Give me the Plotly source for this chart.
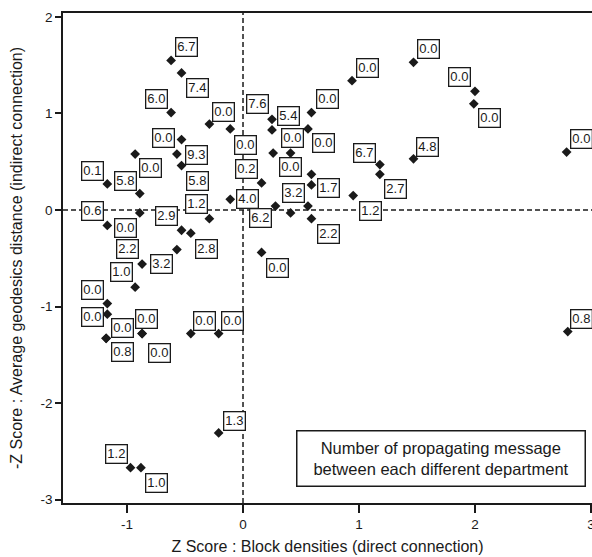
import plotly.graph_objects as go

# Z scores (direct connection = block density, indirect = -avg geodesic distance)
block_density_z = [
    -0.62, -0.53, -0.62, -0.29, -0.11, -0.53, -0.93, -0.57, -0.53, -1.17,
    -0.89, -1.17, -0.89, -0.53, -0.29, -0.45, -0.57, -0.87, -0.93, -0.11,
    -1.17, -1.17, -1.18, -1.18, -0.87, -0.87, -0.45, -0.21, -0.21, -0.97,
    -0.88, 0.25, 0.25, 0.59, 0.56, 0.26, 0.41, 0.59, 0.59, 0.16,
    0.28, 0.56, 0.41, 0.59, 0.95, 0.16, 0.94, 1.47, 2.00, 1.99,
    2.79, 1.18, 1.18, 1.47, 2.80,
]
geodesic_z = [
    1.55, 1.42, 1.01, 0.89, 0.84, 0.73, 0.58, 0.58, 0.46, 0.27,
    0.17, -0.16, -0.03, -0.21, -0.09, -0.24, -0.41, -0.56, -0.80, 0.11,
    -0.97, -1.08, -1.33, -1.33, -1.28, -1.28, -1.28, -1.28, -2.31, -2.67,
    -2.67, 0.94, 0.83, 1.01, 0.84, 0.59, 0.59, 0.37, 0.26, 0.28,
    0.04, 0.04, -0.03, -0.09, 0.15, -0.44, 1.34, 1.53, 1.23, 1.10,
    0.60, 0.47, 0.37, 0.53, -1.26,
]
messages = [
    "6.7", "7.4", "6.0", "0.0", "0.0", "0.0", "0.0", "9.3", "5.8", "0.1",
    "5.8", "0.6", "0.0", "2.9", "1.2", "2.8", "3.2", "2.2", "1.0", "4.0",
    "0.0", "0.0", "0.8", "0.0", "0.0", "0.0", "0.0", "0.0", "1.3", "1.2",
    "1.0", "7.6", "5.4", "0.0", "0.0", "0.0", "0.0", "", "1.7", "0.2",
    "6.2", "3.2", "", "2.2", "1.2", "0.0", "0.0", "0.0", "0.0", "0.0",
    "0.0", "6.7", "2.7", "4.8", "0.8",
]
x_ticks = [-1, 0, 1, 2, 3]
y_ticks = [-3, -2, -1, 0, 1, 2]

# label placement (pixel offsets from each point; layout only)
label_dx = [
    15, 16, -15, 14, 15, -18, 15, 20, 16, -15,
    -14, -15, -14, -15, -13, 16, -15, -15, -14, 17,
    -15, -15, 16, 16, 4, 17, 14, 14, 16, -14,
    16, -15, 16, 16, 16, 19, 0, 0, 17, -15,
    -15, -14, 0, 17, 17, 16, 15, 15, -15, 16,
    15, -15, 16, 14, 14,
]
label_dy = [
    -13, 15, -14, -12, 16, -2, 14, 1, 15, -13,
    -13, -14, 15, -14, -15, 16, 14, -15, -15, 0,
    -14, 3, 14, -10, -15, 19, -13, -13, -12, -14,
    15, -15, -14, -14, 14, -15, 14, 0, 3, -14,
    12, -13, 0, 15, 15, 16, -13, -13, -14, 14,
    -13, -12, 15, -12, -13,
]

FONT = "Liberation Sans, Arial, sans-serif"
INK = "#1a1a1a"

fig = go.Figure()
fig.add_trace(go.Scatter(
    x=block_density_z, y=geodesic_z, mode="markers",
    marker=dict(symbol="diamond", size=7.5, color=INK),
    hoverinfo="x+y", showlegend=False,
))

annotations = []
for xv, yv, t, dx, dy in zip(block_density_z, geodesic_z, messages, label_dx, label_dy):
    if not t:
        continue
    annotations.append(dict(
        x=xv, y=yv, xref="x", yref="y", text=t, showarrow=False,
        xshift=dx, yshift=-dy, xanchor="center", yanchor="middle",
        font=dict(family=FONT, size=13, color=INK),
        bgcolor="white", bordercolor=INK, borderwidth=1.3, borderpad=1,
    ))

annotations.append(dict(
    x=0.7146, y=0.0908, xref="paper", yref="paper",
    xanchor="center", yanchor="middle",
    text="Number of propagating message<br>between each different department",
    showarrow=False, align="center",
    font=dict(family=FONT, size=16.5, color=INK),
    bgcolor="white", bordercolor=INK, borderwidth=1.5, borderpad=3,
    width=281, height=48,
))

fig.update_layout(
    width=592, height=557,
    margin=dict(l=63, r=0, t=13, b=54),
    paper_bgcolor="white", plot_bgcolor="white",
    font=dict(family=FONT, size=12, color=INK),
    annotations=annotations,
    shapes=[
        dict(type="line", xref="x", yref="paper", x0=0, x1=0, y0=0, y1=1,
             line=dict(color=INK, width=1.5, dash="5px,3px")),
        dict(type="line", xref="paper", yref="y", x0=0, x1=1, y0=0, y1=0,
             line=dict(color=INK, width=1.5, dash="5px,3px")),
    ],
    xaxis=dict(
        range=[-1.552, 3.009], tickvals=x_ticks, ticktext=[str(v) for v in x_ticks],
        automargin=False, ticklabeloverflow="allow",
        showgrid=False, zeroline=False, showline=True, linecolor=INK, linewidth=1.5,
        mirror=True, ticks="outside", ticklen=8, tickwidth=1.5, tickcolor=INK,
        tickfont=dict(family=FONT, size=13.5, color=INK),
        title=dict(text="Z Score : Block densities (direct connection)",
                   font=dict(family=FONT, size=16, color=INK), standoff=10),
    ),
    yaxis=dict(
        range=[-3.036, 2.041], tickvals=y_ticks, ticktext=[str(v) for v in y_ticks],
        automargin=False, ticklabeloverflow="allow",
        showgrid=False, zeroline=False, showline=True, linecolor=INK, linewidth=1.5,
        ticks="outside", ticklen=6, tickwidth=1.5, tickcolor=INK,
        tickfont=dict(family=FONT, size=13.5, color=INK),
        title=dict(text="-Z Score : Average geodesics distance (indirect connection)",
                   font=dict(family=FONT, size=16, color=INK), standoff=14),
    ),
)

fig.write_html(
    "out.html",
    config={"displayModeBar": False},
    post_script="document.body.style.margin='0px';document.body.style.overflow='hidden';",
)
